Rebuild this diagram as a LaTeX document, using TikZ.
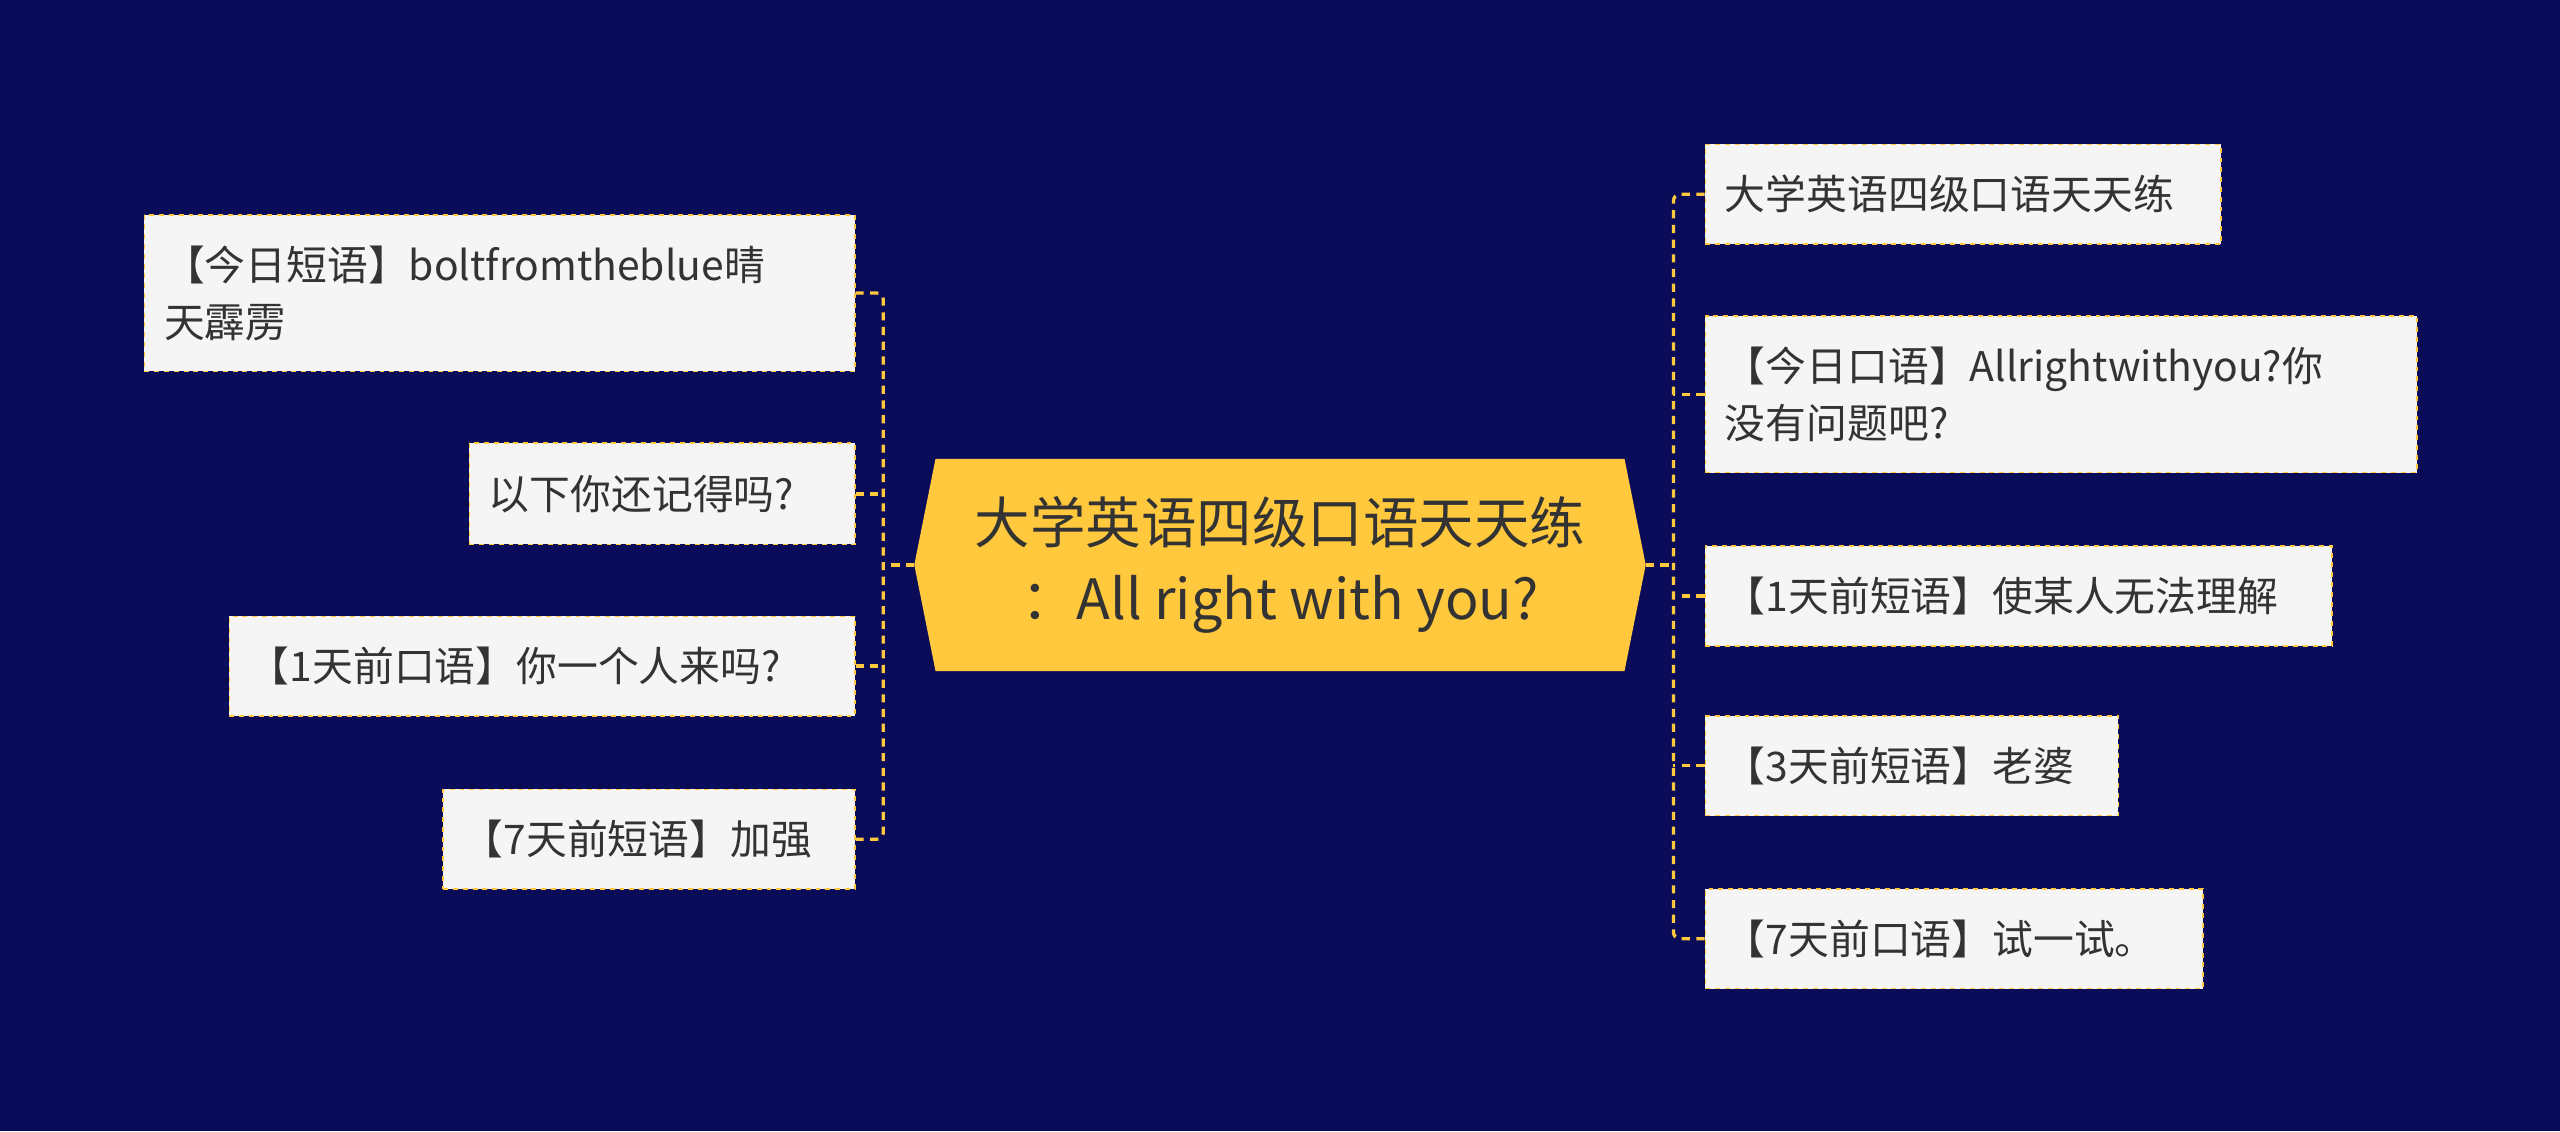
\documentclass[tikz,border=0pt]{standalone}
\usepackage{fontspec}
\setmainfont{Noto Sans CJK SC}
\usetikzlibrary{shapes.geometric}
\definecolor{bg}{HTML}{0A0C5A}
\definecolor{gold}{HTML}{FFC83D}
\definecolor{boxfill}{HTML}{F5F5F5}
\definecolor{txt}{HTML}{333333}
\begin{document}
\begin{tikzpicture}[x=1pt,y=-1pt,
  leaf/.style={draw=gold,dashed,line width=1pt,fill=boxfill,text=txt,font=\fontsize{25}{35}\selectfont,align=left,inner xsep=12pt,inner ysep=0pt,anchor=north west},
  conn/.style={draw=gold,dashed,line width=2pt,dash pattern=on 5pt off 4pt,rounded corners=4pt}]
\fill[bg] (0,0) rectangle (1568,693);
\useasboundingbox (0,0) rectangle (1568,693);
% center
\fill[gold] (573,281) coordinate (c1) -- (995,281) -- (1008,346) coordinate (cr) -- (995,411) -- (573,411) -- (560,346) coordinate (cl) -- cycle;
\node[text=txt,font=\fontsize{34}{46}\selectfont,align=center] (center) at (784,346) {大学英语四级口语天天练\\：All right with you?};
% left leaves
\node[leaf,minimum width=435pt,minimum height=96pt,text width=411pt] (l1) at (88,131) {【今日短语】boltfromtheblue晴\\天霹雳};
\node[leaf,minimum width=236pt,minimum height=62pt,text width=212pt] (l2) at (287,271) {以下你还记得吗?};
\node[leaf,minimum width=383pt,minimum height=61pt,text width=359pt] (l3) at (140,377) {【1天前口语】你一个人来吗?};
\node[leaf,minimum width=252pt,minimum height=61pt,text width=228pt] (l4) at (271,483) {【7天前短语】加强};
% right leaves
\node[leaf,minimum width=316pt,minimum height=61pt,text width=292pt] (r1) at (1044,88) {大学英语四级口语天天练};
\node[leaf,minimum width=436pt,minimum height=96pt,text width=412pt] (r2) at (1044,193) {【今日口语】Allrightwithyou?你\\没有问题吧?};
\node[leaf,minimum width=384pt,minimum height=61pt,text width=360pt] (r3) at (1044,334) {【1天前短语】使某人无法理解};
\node[leaf,minimum width=253pt,minimum height=61pt,text width=229pt] (r4) at (1044,438) {【3天前短语】老婆};
\node[leaf,minimum width=305pt,minimum height=61pt,text width=281pt] (r5) at (1044,544) {【7天前口语】试一试。};
% connectors left
\coordinate (ls) at (541,346);
\draw[conn] (cl) -- (ls);
\draw[conn] (l1.east) -| (ls);
\draw[conn] (l4.east) -| (ls);
\draw[conn] (l2.east) -- (ls |- l2.east);
\draw[conn] (l3.east) -- (ls |- l3.east);
% connectors right
\coordinate (rs) at (1025,346);
\draw[conn] (cr) -- (rs);
\draw[conn] (r1.west) -| (rs);
\draw[conn] (r5.west) -| (rs);
\draw[conn] (r2.west) -- (rs |- r2.west);
\draw[conn] (r3.west) -- (rs |- r3.west);
\draw[conn] (r4.west) -- (rs |- r4.west);
\end{tikzpicture}
\end{document}
